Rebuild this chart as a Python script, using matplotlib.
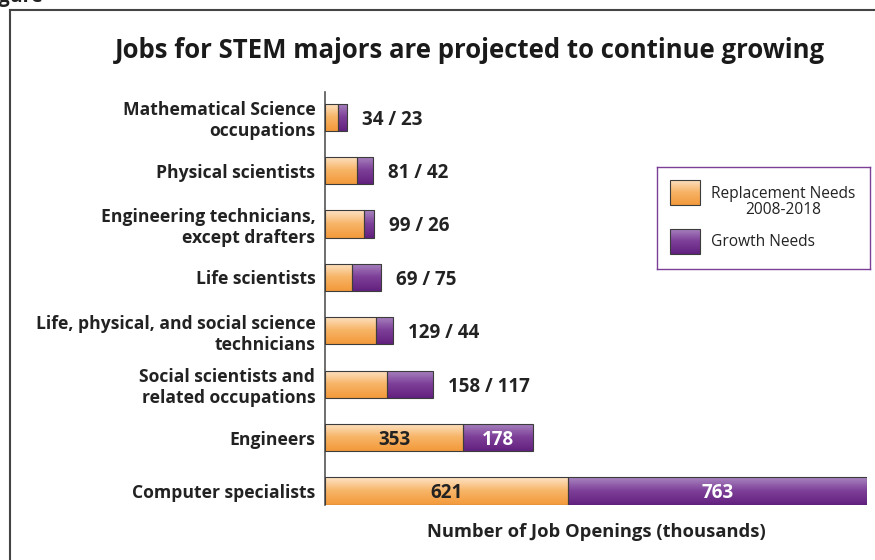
import numpy as np
import matplotlib
matplotlib.use('Agg')
import matplotlib.pyplot as plt
from matplotlib.colors import LinearSegmentedColormap
from matplotlib.patches import Rectangle
from matplotlib.lines import Line2D

plt.rcParams['font.family'] = ['Open Sans', 'DejaVu Sans']

# data, top to bottom as in the chart
categories = ['Mathematical Science\noccupations',
              'Physical scientists',
              'Engineering technicians,\nexcept drafters',
              'Life scientists',
              'Life, physical, and social science\ntechnicians',
              'Social scientists and\nrelated occupations',
              'Engineers',
              'Computer specialists']
replacement = [34, 81, 99, 69, 129, 158, 353, 621]
growth = [23, 42, 26, 75, 44, 117, 178, 763]

orange_map = LinearSegmentedColormap.from_list('org', ['#f39a3c', '#f7b466', '#fde3c6'])
purple_map = LinearSegmentedColormap.from_list('pur', ['#62217f', '#7d3f98', '#a985c0'])
grad = np.linspace(0, 1, 64).reshape(-1, 1)

fig = plt.figure(figsize=(8.75, 5.6), dpi=100)
ax = fig.add_axes([325 / 875, 0.099, (867 - 325) / 875, 0.7366])

n = len(categories)
y = np.arange(n)[::-1]
h = 0.51


def grad_bars(left, width, cmap):
    bars = ax.barh(y, width, h, left=left, facecolor='none',
                   edgecolor='#3c3c3c', linewidth=0.8, zorder=3)
    for p in bars:
        x0, y0 = p.get_x(), p.get_y()
        im = ax.imshow(grad, extent=[x0, x0 + p.get_width(), y0, y0 + p.get_height()],
                       origin='lower', aspect='auto', cmap=cmap, zorder=2)
        im.set_clip_path(p)
    return bars


grad_bars(0, replacement, orange_map)
grad_bars(replacement, growth, purple_map)

for yi, r, g in zip(y, replacement, growth):
    if r + g > 400:
        ax.text(r / 2, yi, str(r), ha='center', va='center_baseline', fontsize=13.5,
                fontweight='bold', color='#222222', zorder=4)
        ax.text(r + g / 2, yi, str(g), ha='center', va='center_baseline', fontsize=13.5,
                fontweight='bold', color='white', zorder=4)
    else:
        ax.text(r + g + 38, yi, f'{r} / {g}', ha='left', va='center_baseline',
                fontsize=13.5, fontweight='bold', color='#222222')

ax.set_xlim(0, sum([replacement[-1], growth[-1]]))
ax.set_ylim(-h / 2, n - 1 + 0.47)
ax.set_yticks(y)
ax.set_yticklabels(categories, fontsize=12.6, fontweight='bold', color='#222222',
                   linespacing=1.2)
ax.tick_params(axis='y', length=0, pad=7)
ax.set_xticks([])
for s in ['top', 'right', 'bottom']:
    ax.spines[s].set_visible(False)
ax.spines['left'].set_color('#555555')
ax.spines['left'].set_linewidth(1.2)
ax.set_xlabel('Number of Job Openings (thousands)', fontsize=13.2,
              fontweight='bold', color='#222222', labelpad=13)

fig.text(470 / 875, 1 - 50 / 560, 'Jobs for STEM majors are projected to continue growing',
         ha='center', va='center', fontsize=18.5, fontweight='bold', color='#1a1a1a')

# legend box
lax = fig.add_axes([657 / 875, 1 - 269 / 560, 213 / 875, 102 / 560])
lax.set_xlim(0, 1)
lax.set_ylim(0, 1)
lax.set_xticks([])
lax.set_yticks([])
for s in lax.spines.values():
    s.set_color('#7b3f98')
    s.set_linewidth(1.0)
for (yb, cmap) in [(0.627, orange_map), (0.147, purple_map)]:
    rect = Rectangle((0.061, yb), 0.141, 0.25, facecolor='none',
                     edgecolor='#3c3c3c', linewidth=0.8, zorder=3)
    lax.add_patch(rect)
    im = lax.imshow(grad, extent=[0.061, 0.202, yb, yb + 0.25], origin='lower',
                    aspect='auto', cmap=cmap, zorder=2)
    im.set_clip_path(rect)
lax.text(0.254, 0.655, 'Replacement Needs\n2008-2018', ha='left', va='center',
         multialignment='center', fontsize=11.2, color='#222222', linespacing=1.0)
lax.text(0.254, 0.265, 'Growth Needs', ha='left', va='center', fontsize=11.2,
         color='#222222')

# outer frame and cut off figure label
fig.add_artist(Line2D([10 / 875, 10 / 875], [0, 1 - 10 / 560], color='#444444', lw=1.5))
fig.add_artist(Line2D([10 / 875, 1], [1 - 10 / 560, 1 - 10 / 560], color='#444444', lw=1.5))
fig.text(-0.02, 1 - 2 / 560, 'Figure', ha='left', va='baseline', fontsize=14,
         fontweight='bold', color='#222222')

fig.savefig('out.png', dpi=100)
